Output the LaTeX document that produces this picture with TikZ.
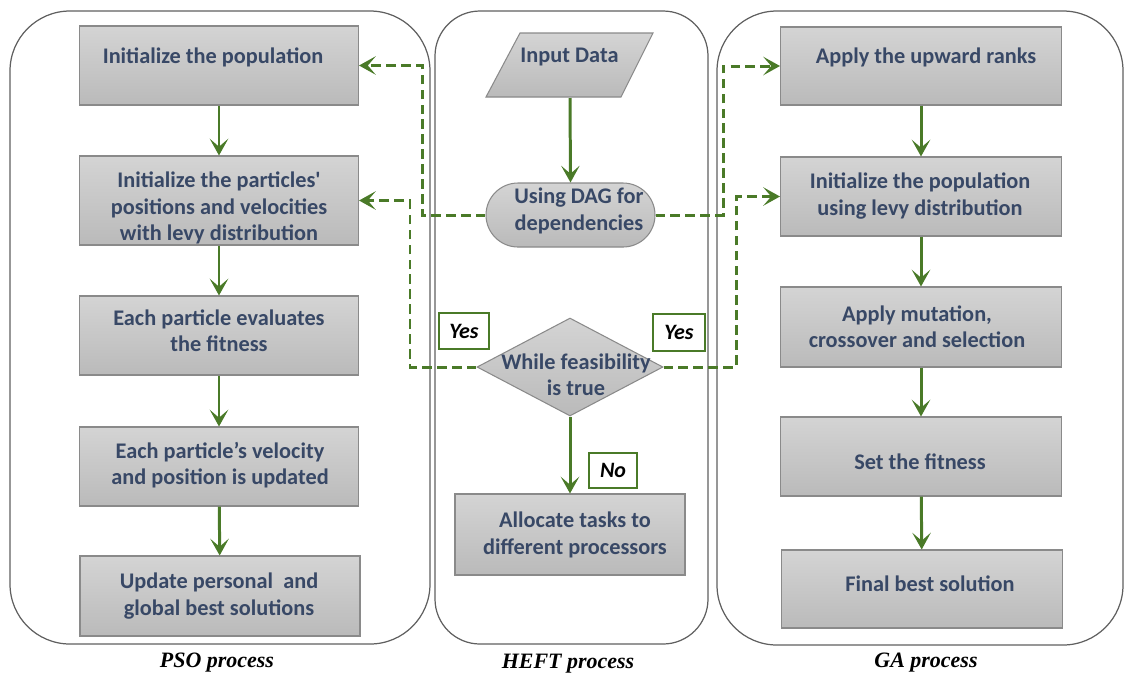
\documentclass[tikz,border=0pt]{standalone}
\usepackage{fontspec}
\setmainfont{Liberation Serif}
\newfontfamily\boxfont{Carlito}
\usetikzlibrary{arrows.meta,shapes.geometric,shapes.misc}
\definecolor{flowgreen}{RGB}{74,122,40}
\definecolor{boxtext}{RGB}{56,72,102}
\definecolor{boxtop}{RGB}{212,212,212}
\definecolor{boxbot}{RGB}{186,186,186}
\definecolor{boxline}{RGB}{138,138,138}
\definecolor{laneline}{RGB}{96,96,96}
\begin{document}
\begin{tikzpicture}[x=0.02cm,y=-0.02cm,
  lane/.style={draw=laneline,line width=0.7pt},
  boxsize/.style 2 args={minimum width=#1*0.02cm,minimum height=#2*0.02cm},
  proc/.style={rectangle,draw=boxline,line width=0.6pt,top color=boxtop,bottom color=boxbot,inner sep=0pt},
  txt/.style={text=boxtext,font=\boxfont\bfseries\fontsize{12.7}{15}\selectfont,align=center,inner sep=0pt},
  flow/.style={draw=flowgreen,line width=1.7pt,-{Stealth[length=9.5pt,width=10.5pt,inset=4.5pt]}},
  dflow/.style={flow,dash pattern=on 5.5pt off 3pt},
  answer/.style={rectangle,draw=flowgreen,line width=0.8pt,fill=white,inner sep=0pt,
    font=\boxfont\bfseries\itshape\fontsize{12.5}{14}\selectfont},
  caption/.style={font=\bfseries\itshape\fontsize{12.5}{15}\selectfont,inner sep=0pt}
]
\useasboundingbox (0,0) rectangle (1125,674);

% swim lanes
\draw[lane,rounded corners=1.2cm] (10,11) rectangle (430,644);
\draw[lane,rounded corners=0.9cm] (435,11) rectangle (708,644);
\draw[lane,rounded corners=1.2cm] (717,11) rectangle (1123,645);

% PSO lane
\node[proc,boxsize={279}{79}] (p1) at (219,65.5) {};
\node[txt] (p1t) at (213,57) {Initialize the population};
\node[proc,boxsize={279}{89}] (p2) at (219,200.5) {};
\node[txt] (p2t) at (219,208) {Initialize the particles'\\positions and velocities\\with levy distribution};
\node[proc,boxsize={279}{79}] (p3) at (219,335.5) {};
\node[txt] (p3t) at (219,331) {Each particle evaluates\\the fitness};
\node[proc,boxsize={279}{79}] (p4) at (219,466.5) {};
\node[txt] (p4t) at (220,465) {Each particle’s velocity\\and position is updated};
\node[proc,boxsize={280}{80}] (p5) at (220,596) {};
\node[txt] (p5t) at (219,596) {Update personal\ \ and\\global best solutions};

\draw[flow] (p1) -- (p2);
\draw[flow] (p2) -- (p3);
\draw[flow] (p3) -- (p4);
\draw[flow] (p4) -- (p5);

% HEFT lane
\path[draw=boxline,line width=0.6pt,top color=boxtop,bottom color=boxbot]
  (520,33) -- (653,33) -- (621,97) -- (486,97) -- cycle;
\node[txt] (inp) at (569.5,57) {Input Data};
\coordinate (inpbase) at (570,98);
\node[proc,rounded rectangle,boxsize={169}{64}] (dag) at (570.5,215) {};
\node[txt] (dagt) at (579,211) {Using DAG for\\dependencies};
\node[proc,diamond,boxsize={186}{98}] (dia) at (570,367) {};
\node[txt] (diat) at (576,375) {While feasibility\\is true};
\node[proc,boxsize={230}{81}] (alloc) at (570,534.5) {};
\node[txt] (alloct) at (575,535) {Allocate tasks to\\different processors};

\draw[flow] (inpbase) -- (dag.north);
\draw[flow] (dia.south) -- (alloc.north);

\node[answer,boxsize={50}{36}] (yesl) at (464,331) {Yes};
\node[answer,boxsize={52}{37}] (yesr) at (679,332.5) {Yes};
\node[answer,boxsize={48}{35}] (no) at (613,470.5) {No};

% GA lane
\node[proc,boxsize={281}{78}] (g1) at (921,66) {};
\node[txt] (g1t) at (926,57) {Apply the upward ranks};
\node[proc,boxsize={281}{79}] (g2) at (921,196.5) {};
\node[txt] (g2t) at (920,196) {Initialize the population\\using levy distribution};
\node[proc,boxsize={281}{80}] (g3) at (921,327) {};
\node[txt] (g3t) at (917,327) {Apply mutation,\\crossover and selection};
\node[proc,boxsize={281}{79}] (g4) at (921,456.5) {};
\node[txt] (g4t) at (920,462) {Set the fitness};
\node[proc,boxsize={281}{78}] (g5) at (922,589) {};
\node[txt] (g5t) at (930,584) {Final best solution};

\draw[flow] (g1) -- (g2);
\draw[flow] (g2) -- (g3);
\draw[flow] (g3) -- (g4);
\draw[flow] (g4) -- (g5);

% loops between the lanes
\draw[dflow] (dag.west) -- (422,0 |- dag.west) |- (p1.east);
\draw[dflow] (dia.west) -- (410,0 |- dia.west) |- (p2.east);
\draw[dflow] (dag.east) -- (723,0 |- dag.east) |- (g1.west);
\draw[dflow] (dia.east) -- (736,0 |- dia.east) |- (g2.west);

% lane captions
\node[caption] (cpso) at (217,663) {PSO process};
\node[caption] (cheft) at (568,664) {HEFT process};
\node[caption] (cga) at (926,663) {GA process};
\end{tikzpicture}
\end{document}
